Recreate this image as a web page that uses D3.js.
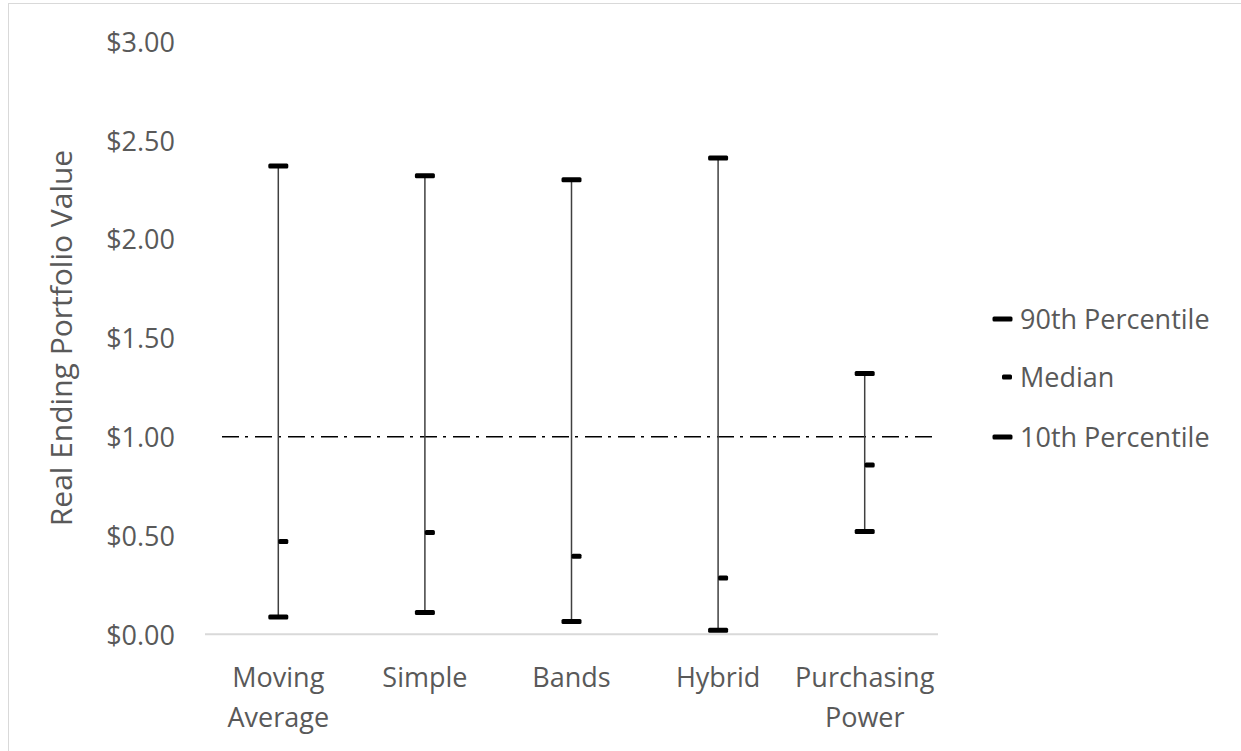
<!DOCTYPE html>
<html>
<head>
<meta charset="utf-8">
<script src="https://cdn.jsdelivr.net/npm/d3@7"></script>
<style>
  html, body { margin: 0; padding: 0; background: #fff; }
  svg { display: block; }
  text { font-family: "Open Sans", "Noto Sans", sans-serif; fill: #595959; }
</style>
</head>
<body>
<svg id="chart" width="1241" height="751"></svg>
<script>
// Strategies compared
const categories = [["Moving", "Average"], ["Simple"], ["Bands"], ["Hybrid"], ["Purchasing", "Power"]];
// Real ending portfolio value per strategy
const p90    = [2.37, 2.32, 2.30, 2.41, 1.32];
const median = [0.47, 0.515, 0.395, 0.285, 0.857];
const p10    = [0.088, 0.11, 0.065, 0.021, 0.52];
const yTicks = [0, 0.5, 1, 1.5, 2, 2.5, 3];
const reference = 1.0;
const legendItems = ["90th Percentile", "Median", "10th Percentile"];

const svg = d3.select("#chart");
const W = 1241, H = 751;
const FS = 27;

// chart area frame
svg.append("rect")
  .attr("x", 8.5).attr("y", 3.5)
  .attr("width", W + 20).attr("height", H + 20)
  .attr("fill", "none").attr("stroke", "#d9d9d9").attr("stroke-width", 1);

const plot = { left: 205, right: 938, top: 41.5, bottom: 634.3 };

const x = d3.scaleBand()
  .domain(d3.range(categories.length))
  .range([plot.left, plot.right]);

const y = d3.scaleLinear()
  .domain([0, 3])
  .range([plot.bottom, plot.top]);

const fmt = d3.format("$.2f");

// y tick labels (no axis line, no ticks)
const yAxis = d3.axisLeft(y).tickValues(yTicks).tickFormat(fmt).tickSize(0).tickPadding(0);
const gy = svg.append("g").attr("transform", `translate(175,0)`).call(yAxis);
gy.select(".domain").remove();
gy.selectAll("text")
  .attr("fill", "#595959")
  .style("font-family", "'Open Sans', sans-serif")
  .style("font-size", FS + "px")
  .attr("dy", "0.36em");

// y title
svg.append("text")
  .attr("transform", `translate(72,338) rotate(-90)`)
  .attr("text-anchor", "middle")
  .style("font-size", "30px")
  .text("Real Ending Portfolio Value");

// x axis baseline
svg.append("line")
  .attr("x1", plot.left).attr("x2", plot.right)
  .attr("y1", y(0)).attr("y2", y(0))
  .attr("stroke", "#d9d9d9").attr("stroke-width", 2);

// x category labels
const cx = i => x(i) + x.bandwidth() / 2;
const xl = svg.append("g");
categories.forEach((lines, i) => {
  const t = xl.append("text")
    .attr("text-anchor", "middle")
    .style("font-size", FS + "px");
  lines.forEach((ln, k) => {
    t.append("tspan").attr("x", cx(i)).attr("y", 687 + k * 40).text(ln);
  });
});

// reference line at $1.00
svg.append("line")
  .attr("x1", 222).attr("x2", plot.right)
  .attr("y1", y(reference)).attr("y2", y(reference))
  .attr("stroke", "#000").attr("stroke-width", 1.5)
  .attr("stroke-dasharray", "17,6,3,7");

// whiskers from 10th to 90th percentile
svg.append("g").selectAll("line")
  .data(d3.range(categories.length))
  .join("line")
  .attr("x1", cx).attr("x2", cx)
  .attr("y1", i => y(p10[i])).attr("y2", i => y(p90[i]))
  .attr("stroke", "#404040").attr("stroke-width", 1.5);

const capW = 20, capH = 5, medW = 10;
function cap(g, xc, yc) {
  g.append("rect")
    .attr("x", xc - capW / 2).attr("y", yc - capH / 2)
    .attr("width", capW).attr("height", capH)
    .attr("rx", 1.5).attr("fill", "#000");
}
function med(g, xl0, yc) {
  g.append("rect")
    .attr("x", xl0).attr("y", yc - capH / 2)
    .attr("width", medW).attr("height", capH)
    .attr("rx", 1.5).attr("fill", "#000");
}

const marks = svg.append("g");
d3.range(categories.length).forEach(i => {
  cap(marks, cx(i), y(p90[i]));
  cap(marks, cx(i), y(p10[i]));
  med(marks, cx(i), y(median[i]));
});

// legend
const legY = [319, 377, 437];
const lg = svg.append("g");
legendItems.forEach((name, k) => {
  if (k === 1) med(lg, 1002, legY[k]);
  else cap(lg, 1002.5, legY[k]);
  lg.append("text")
    .attr("x", 1020).attr("y", legY[k])
    .attr("dy", "0.36em")
    .style("font-size", FS + "px")
    .text(name);
});
</script>
</body>
</html>
